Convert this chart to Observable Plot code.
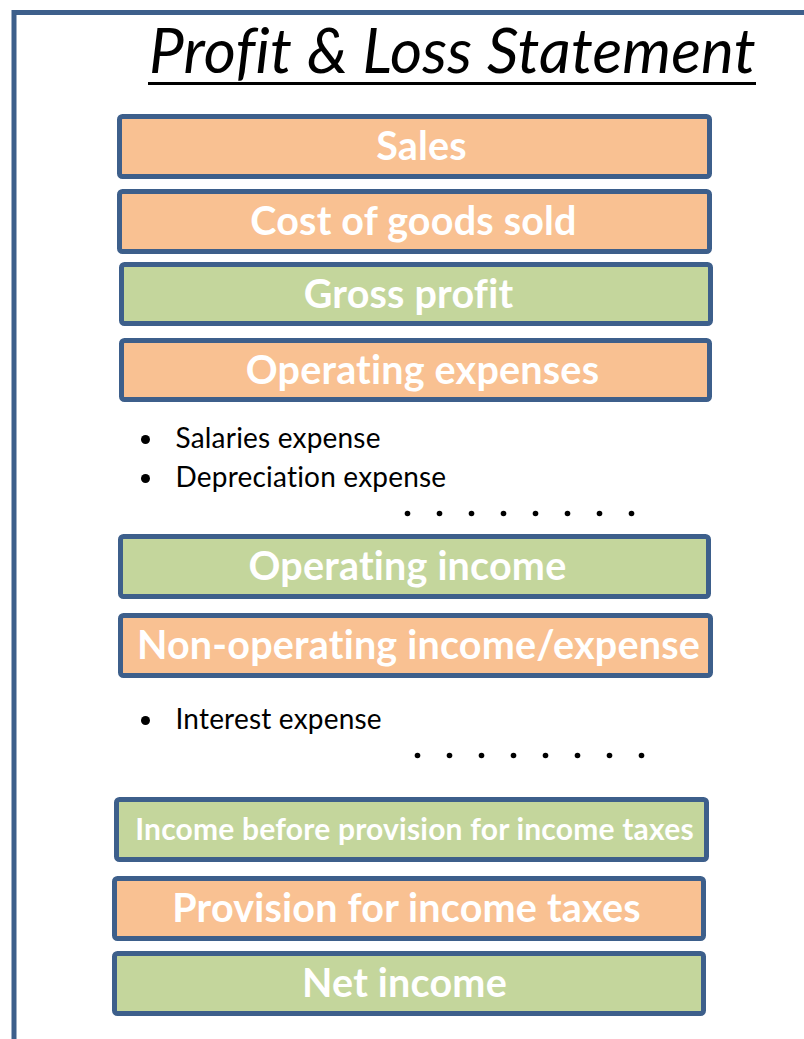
<!DOCTYPE html>
<html>
<head>
<meta charset="utf-8">
<script src="https://cdn.jsdelivr.net/npm/d3@7"></script>
<script src="https://cdn.jsdelivr.net/npm/@observablehq/plot@0.6"></script>
<style>
  html, body { margin: 0; padding: 0; background: #ffffff; }
  #chart svg { display: block; }
  #chart svg text { font-variant-ligatures: none; letter-spacing: 0.2px; }
</style>
</head>
<body>
<div id="chart"></div>
<script>
// ---- content ----
const title = "Profit & Loss Statement";
const labels = [
  "Sales",
  "Cost of goods sold",
  "Gross profit",
  "Operating expenses",
  "Operating income",
  "Non-operating income/expense",
  "Income before provision for income taxes",
  "Provision for income taxes",
  "Net income"
];
const kinds = ["cost", "cost", "profit", "cost", "profit", "cost", "profit", "cost", "profit"];
const bulletGroups = [
  ["Salaries expense", "Depreciation expense"],
  ["Interest expense"]
];
const ellipsisCount = [8, 8];

// ---- layout (diagram geometry, kept apart from content) ----
const boxX1 = [119.5, 119.5, 121.5, 121.5, 120.5, 120.5, 116.5, 114.5, 114.5];
const boxX2 = [709.5, 709.5, 710.5, 709.5, 708.5, 710.5, 706.5, 703.5, 703.5];
const boxY1 = [116.5, 191.5, 264.5, 340.5, 536.5, 615.5, 799.5, 878.5, 953.5];
const boxY2 = [176.5, 251.5, 323.5, 399.5, 596.5, 675.5, 859.5, 938.5, 1013.5];
const labelCx = [421, 413, 408, 422, 407, 418, 414, 406, 404];
const labelSize = [40, 40, 40, 40, 40, 40, 30, 40, 40];
const bulletY = [[439, 478], [720]];
const ellipsisY = [513, 755];
const ellipsisX0 = [407, 417];
const ellipsisStep = 32;

const fills = {cost: "#f9c192", profit: "#c4d69c"};
const edge = "#3d5f8b";

const boxes = labels.map((label, i) => ({
  label, kind: kinds[i],
  x1: boxX1[i], x2: boxX2[i], y1: boxY1[i], y2: boxY2[i],
  cx: labelCx[i], cy: (boxY1[i] + boxY2[i]) / 2 + 0.5, size: labelSize[i]
}));

const bullets = bulletGroups.flatMap((g, gi) => g.map((t, j) => ({text: t, y: bulletY[gi][j]})));
const dots = ellipsisCount.flatMap((n, gi) => d3.range(n).map(k => ({x: ellipsisX0[gi] + k * ellipsisStep, y: ellipsisY[gi]})));

const chart = Plot.plot({
  width: 804,
  height: 1039,
  margin: 0,
  x: {domain: [0, 804], axis: null},
  y: {domain: [0, 1039], axis: null, reverse: true},
  style: {background: "#ffffff", overflow: "visible"},
  marks: [
    // frame
    Plot.ruleY([12], {x1: 13.5, x2: 804, stroke: edge, strokeWidth: 5}),
    Plot.ruleX([13.5], {y1: 10, y2: 1039, stroke: edge, strokeWidth: 5}),
    // title
    Plot.text([title], {x: 452, y: 53, text: d => d, fontSize: 62, fontStyle: "italic", fontFamily: "Lato, sans-serif", fill: "#000", textAnchor: "middle", lineAnchor: "middle"}),
    Plot.ruleY([83], {x1: 148, x2: 756, stroke: "#000", strokeWidth: 3}),
    // boxes
    Plot.rect(boxes, {x1: "x1", x2: "x2", y1: "y1", y2: "y2", fill: d => fills[d.kind], stroke: edge, strokeWidth: 5, rx: 3}),
    Plot.text(boxes.filter(d => d.size === 40), {x: "cx", y: "cy", text: "label", fill: "#ffffff", fontSize: 39.5, fontWeight: "bold", fontFamily: "Lato, sans-serif", lineAnchor: "middle"}),
    Plot.text(boxes.filter(d => d.size !== 40), {x: "cx", y: "cy", text: "label", fill: "#ffffff", fontSize: 30, fontWeight: "bold", fontFamily: "Lato, sans-serif", lineAnchor: "middle"}),
    // bullet lists
    Plot.dot(bullets, {x: 145, y: "y", r: 4.5, fill: "#000", stroke: null}),
    Plot.text(bullets, {x: 175, y: "y", text: "text", textAnchor: "start", lineAnchor: "middle", fontSize: 28, fontFamily: "Lato, sans-serif", fill: "#000"}),
    // ellipses
    Plot.dot(dots, {x: "x", y: "y", r: 2.8, fill: "#000", stroke: null})
  ]
});
document.getElementById("chart").appendChild(chart);
</script>
</body>
</html>
